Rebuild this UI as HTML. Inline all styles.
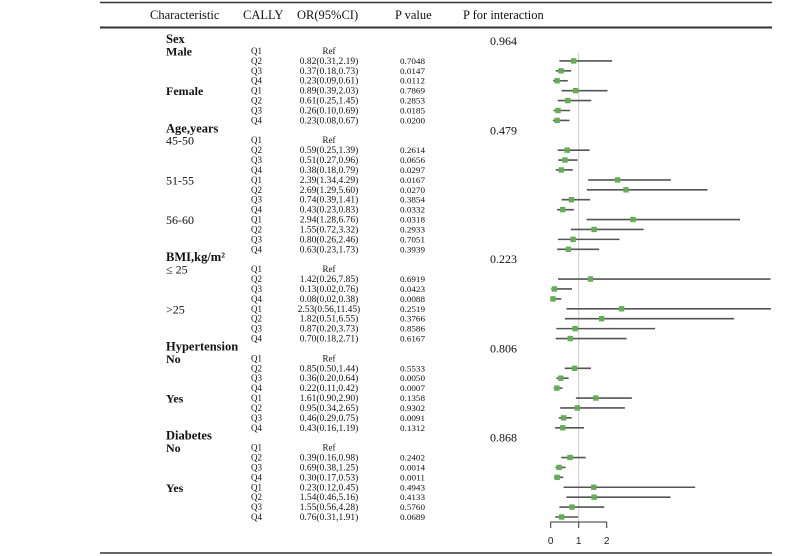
<!DOCTYPE html>
<html><head><meta charset="utf-8"><style>
html,body{margin:0;padding:0;background:#fff;}
svg{display:block;font-family:"Liberation Serif",serif;}
</style></head><body>
<svg id="chart" width="788" height="556" viewBox="0 0 788 556" xmlns="http://www.w3.org/2000/svg"></svg>
<script>
// ---- data ----
const rowQ = ["Q1","Q2","Q3","Q4","Q1","Q2","Q3","Q4", "", "Q1","Q2","Q3","Q4","Q1","Q2","Q3","Q4","Q1","Q2","Q3","Q4", "", "Q1","Q2","Q3","Q4","Q1","Q2","Q3","Q4", "", "Q1","Q2","Q3","Q4","Q1","Q2","Q3","Q4", "", "Q1","Q2","Q3","Q4","Q1","Q2","Q3","Q4"];
const orText = ["Ref","0.82(0.31,2.19)","0.37(0.18,0.73)","0.23(0.09,0.61)","0.89(0.39,2.03)","0.61(0.25,1.45)","0.26(0.10,0.69)","0.23(0.08,0.67)","",
"Ref","0.59(0.25,1.39)","0.51(0.27,0.96)","0.38(0.18,0.79)","2.39(1.34,4.29)","2.69(1.29,5.60)","0.74(0.39,1.41)","0.43(0.23,0.83)","2.94(1.28,6.76)","1.55(0.72,3.32)","0.80(0.26,2.46)","0.63(0.23,1.73)","",
"Ref","1.42(0.26,7.85)","0.13(0.02,0.76)","0.08(0.02,0.38)","2.53(0.56,11.45)","1.82(0.51,6.55)","0.87(0.20,3.73)","0.70(0.18,2.71)","",
"Ref","0.85(0.50,1.44)","0.36(0.20,0.64)","0.22(0.11,0.42)","1.61(0.90,2.90)","0.95(0.34,2.65)","0.46(0.29,0.75)","0.43(0.16,1.19)","",
"Ref","0.39(0.16,0.98)","0.69(0.38,1.25)","0.30(0.17,0.53)","0.23(0.12,0.45)","1.54(0.46,5.16)","1.55(0.56,4.28)","0.76(0.31,1.91)"];
const pText = ["","0.7048","0.0147","0.0112","0.7869","0.2853","0.0185","0.0200","",
"","0.2614","0.0656","0.0297","0.0167","0.0270","0.3854","0.0332","0.0318","0.2933","0.7051","0.3939","",
"","0.6919","0.0423","0.0088","0.2519","0.3766","0.8586","0.6167","",
"","0.5533","0.0050","0.0007","0.1358","0.9302","0.0091","0.1312","",
"","0.2402","0.0014","0.0011","0.4943","0.4133","0.5760","0.0689"];
const plotOR = [null,0.82,0.37,0.23,0.89,0.61,0.26,0.23,null,
null,0.59,0.51,0.38,2.39,2.69,0.74,0.43,2.94,1.55,0.80,0.63,null,
null,1.42,0.13,0.08,2.53,1.82,0.87,0.70,null,
null,0.85,0.36,0.22,1.61,0.95,0.46,0.43,null,
null,0.69,0.30,0.23,1.54,1.55,0.76,0.39];
const plotLo = [null,0.31,0.18,0.09,0.39,0.25,0.10,0.08,null,
null,0.25,0.27,0.18,1.34,1.29,0.39,0.23,1.28,0.72,0.26,0.23,null,
null,0.26,0.02,0.02,0.56,0.51,0.20,0.18,null,
null,0.50,0.20,0.11,0.90,0.34,0.29,0.16,null,
null,0.38,0.17,0.12,0.46,0.56,0.31,0.16];
const plotHi = [null,2.19,0.73,0.61,2.03,1.45,0.69,0.67,null,
null,1.39,0.96,0.79,4.29,5.60,1.41,0.83,6.76,3.32,2.46,1.73,null,
null,7.85,0.76,0.38,11.45,6.55,3.73,2.71,null,
null,1.44,0.64,0.42,2.90,2.65,0.75,1.19,null,
null,1.25,0.53,0.45,5.16,4.28,1.91,0.98];
const groups = ["Sex","Age,years","BMI,kg/m²","Hypertension","Diabetes"];
const groupRow = [-1,8,21,30,39];
const pInter = ["0.964","0.479","0.223","0.806","0.868"];
const subLabels = ["Male","Female","45-50","51-55","56-60","≤ 25",">25","No","Yes","No","Yes"];
const subRow = [0,4,9,13,17,22,26,31,35,40,44];
const subBold = [true,true,false,false,false,false,false,true,true,true,true];
const ticks = [0,1,2];

// ---- scales ----
const X0 = 550.7, PX = 28, XMAX = 771;
const xs = v => Math.min(X0 + v*PX, XMAX);
const ys = i => 51 + i*9.915;

const svg = document.getElementById('chart');
const NS = "http://www.w3.org/2000/svg";
function mk(tag, attrs, text){
  const e = document.createElementNS(NS, tag);
  for (const k in attrs) e.setAttribute(k, attrs[k]);
  if (text !== undefined) e.textContent = text;
  svg.appendChild(e);
  return e;
}
let e;
e = mk('line',{x1:100,x2:772,y1:2.5,y2:2.5,stroke:'#333','stroke-width':1.5});
 
e = mk('line',{x1:100,x2:772,y1:27.5,y2:27.5,stroke:'#333','stroke-width':2});
 
e = mk('line',{x1:100,x2:772,y1:553,y2:553,stroke:'#333','stroke-width':1.5});
 

const heads = [["Characteristic",150,"header-characteristic"],["CALLY",243,"header-cally"],["OR(95%CI)",297,"header-or"],["P value",395,"header-p-value"],["P for interaction",463,"header-p-interaction"]];
heads.forEach(h=>{
  const t = mk('text',{x:h[1],y:19,'font-size':12.5,fill:'#111'},h[0]);
  
  
});

groups.forEach((g,k)=>{
  const y = ys(groupRow[k]);
  const t = mk('text',{x:166,y:y+2,'font-size':12.5,'font-weight':'bold',fill:'#111'},g);
  
  
  const p = mk('text',{x:490,y:y+4,'font-size':12,fill:'#111'},pInter[k]);
  
  
});
subLabels.forEach((s,k)=>{
  const y = ys(subRow[k]);
  const t = mk('text',{x:166,y:y+4.5,'font-size':12,'font-weight':subBold[k]?'bold':'normal',fill:'#111'},s);
  
  
});

e = mk('line',{x1:xs(1),x2:xs(1),y1:53,y2:522,stroke:'#ccc','stroke-width':1});
 

rowQ.forEach((q,i)=>{
  if (!q) return;
  const y = ys(i);
  const t1 = mk('text',{x:251,y:y+3,'font-size':9,fill:'#111'},q);
  
  
  const ot = orText[i];
  const attrs = {x:329,y:y+3,'font-size':9,fill:'#111','text-anchor':'middle'};
  if (ot !== "Ref") { attrs.textLength = ot.length*3.9; attrs.lengthAdjust='spacingAndGlyphs'; }
  const t2 = mk('text',attrs,ot);
  
  
  if (pText[i]) {
    const t3 = mk('text',{x:400,y:y+3,'font-size':8.5,fill:'#111',textLength:25,lengthAdjust:'spacingAndGlyphs'},pText[i]);
    
    
  }
  if (plotOR[i] !== null) {
    const l = mk('line',{x1:xs(plotLo[i]),x2:xs(plotHi[i]),y1:y,y2:y,stroke:'#555','stroke-width':1.6});
    
    
    const m = mk('rect',{x:xs(plotOR[i])-2.7,y:y-2.7,width:5.4,height:5.4,fill:'#63ad55'});
    
    
  }
});

e = mk('line',{x1:xs(0),x2:xs(2),y1:522,y2:522,stroke:'#333','stroke-width':1});
 
ticks.forEach(v=>{
  const l = mk('line',{x1:xs(v),x2:xs(v),y1:522,y2:528,stroke:'#333','stroke-width':1});
  
  
  const t = mk('text',{x:xs(v),y:544,'font-size':10,fill:'#222','text-anchor':'middle','font-family':'Liberation Sans, sans-serif'},String(v));
  
  
});
</script>
</body></html>
